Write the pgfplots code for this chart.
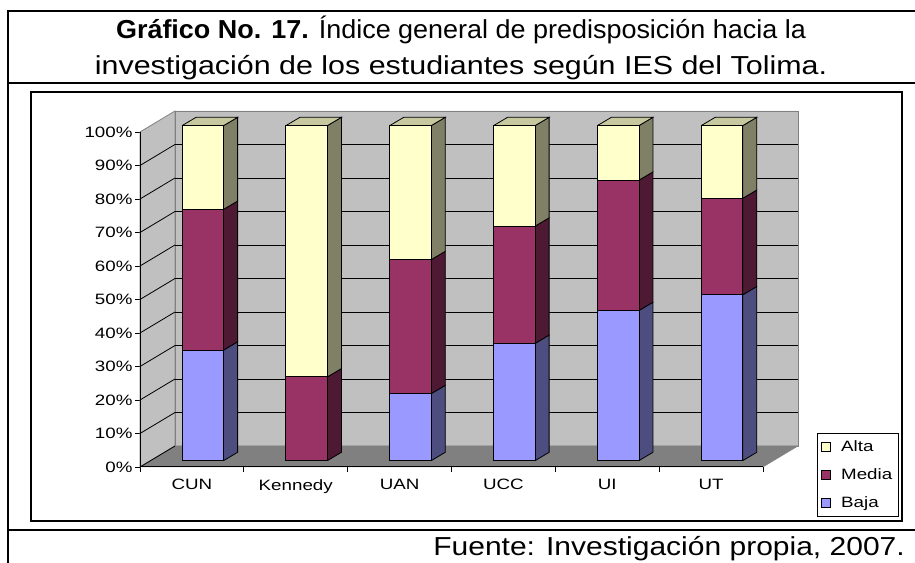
\documentclass[border=0pt]{standalone}
\usepackage{fontspec}
\setmainfont{Liberation Sans}
\newfontfamily\chartfont[FakeStretch=1.25]{Liberation Sans}
\usepackage{graphicx}
\usepackage{pgfplots}
\pgfplotsset{compat=1.18}
\usepackage{pgfplotstable}

\definecolor{bajaF}{HTML}{9999FF}
\definecolor{bajaS}{HTML}{4D4D80}
\definecolor{mediaF}{HTML}{993366}
\definecolor{mediaS}{HTML}{4D1933}
\definecolor{altaF}{HTML}{FFFFCC}
\definecolor{altaS}{HTML}{808066}
\definecolor{topC}{HTML}{C8C8A0}
\definecolor{wallC}{HTML}{C0C0C0}
\definecolor{floorC}{HTML}{808080}
\definecolor{edgeC}{HTML}{808080}

\pgfplotstableread{
cat base Baja Media Alta
0 1.9 33 42 25
1 1.9 0 25 75
2 1.9 20 40 40
3 1.9 35 35 30
4 1.9 44.8 38.9 16.3
5 1.9 49.5 28.8 21.7
}\datatable

\newcommand{\sidef}[4]{%
 \pgfmathsetmacro\xa{#1}\pgfmathsetmacro\xb{#1+0.135}%
 \pgfmathsetmacro\ya{#2+1.9}\pgfmathsetmacro\yb{#2+4.38}%
 \pgfmathsetmacro\yc{#3+4.38}\pgfmathsetmacro\yd{#3+1.9}%
 \edef\tmp{\noexpand\addplot[fill=#4,draw=black,line width=0.8bp] coordinates {(\xa,\ya) (\xb,\yb) (\xb,\yc) (\xa,\yd) (\xa,\ya)};}\tmp}
\newcommand{\topf}[1]{%
 \pgfmathsetmacro\xa{#1}\pgfmathsetmacro\xb{#1+0.4}\pgfmathsetmacro\xc{#1+0.535}\pgfmathsetmacro\xd{#1+0.135}%
 \edef\tmp{\noexpand\addplot[fill=topC,draw=black,line width=0.8bp] coordinates {(\xa,101.9) (\xb,101.9) (\xc,104.38) (\xd,104.38) (\xa,101.9)};}\tmp}

\pgfplotsset{base3d/.style={x=103.83bp, y=3.35bp, xmin=-0.5, xmax=5.837, ymin=0, ymax=106.27,
  anchor=south west, at={(140bp,96bp)}, enlargelimits=false, clip=false}}

\begin{document}
\begin{tikzpicture}[x=1bp,y=1bp]
\useasboundingbox (0,0) rectangle (915,563);
% table frame
\draw[line width=2bp] (8,552) -- (916,552);
\draw[line width=2bp] (8,480) -- (916,480);
\draw[line width=2bp] (8,33) -- (916,33);
\draw[line width=2bp] (8,-1) -- (8,553);
\draw[line width=2bp] (31,42) rectangle (902,471);
% title and source
\node[anchor=base, inner sep=0] at (461,524) {\scalebox{1.037}[1]{\fontsize{26bp}{31bp}\selectfont\textbf{Gráfico No. 17.} Índice general de predisposición hacia la}};
\node[anchor=base, inner sep=0] at (461,488) {\scalebox{1.17}[1]{\fontsize{26bp}{31bp}\selectfont investigación de los estudiantes según IES del Tolima.}};
\node[anchor=base east, inner sep=0] at (905,7) {\scalebox{1.154}[1]{\fontsize{26bp}{31bp}\selectfont Fuente: Investigación propia, 2007.}};

\begin{axis}[base3d,
  axis line style={draw=none},
  no markers,
  tick pos=left, tick align=outside,
  major tick length=5bp,
  ytick={0,10,...,100},
  yticklabels={0\%,10\%,20\%,30\%,40\%,50\%,60\%,70\%,80\%,90\%,100\%},
  xtick={-0.5,0.5,...,5.5},
  xticklabels={},
  extra x ticks={0,1,2,3,4,5},
  extra x tick labels={CUN,Kennedy,UAN,UCC,UI,UT},
  extra x tick style={tick style={draw=none}, xticklabel style={yshift=-4bp}},
  tick style={black, line width=0.8bp},
  ticklabel style={font=\chartfont\fontsize{15bp}{17bp}\selectfont},
  yticklabel style={xshift=1bp},
  unbounded coords=jump,
]
% walls and floor
\addplot[fill=wallC, draw=edgeC, line width=0.8bp] coordinates {(-0.5,0) (-0.163,6.27) (-0.163,106.27) (-0.5,100) (-0.5,0)};
\addplot[fill=wallC, draw=edgeC, line width=0.8bp] coordinates {(-0.163,6.27) (5.837,6.27) (5.837,106.27) (-0.163,106.27) (-0.163,6.27)};
\addplot[fill=floorC, draw=floorC, line width=0.5bp] coordinates {(-0.5,0) (5.5,0) (5.837,6.27) (-0.163,6.27) (-0.5,0)};
% gridlines
\addplot[black, line width=0.8bp] coordinates {
(-0.163,16.27) (5.837,16.27) (nan,nan)
(-0.163,26.27) (5.837,26.27) (nan,nan)
(-0.163,36.27) (5.837,36.27) (nan,nan)
(-0.163,46.27) (5.837,46.27) (nan,nan)
(-0.163,56.27) (5.837,56.27) (nan,nan)
(-0.163,66.27) (5.837,66.27) (nan,nan)
(-0.163,76.27) (5.837,76.27) (nan,nan)
(-0.163,86.27) (5.837,86.27) (nan,nan)
(-0.163,96.27) (5.837,96.27)};
\addplot[black, line width=0.8bp] coordinates {
(-0.5,0) (-0.163,6.27) (nan,nan)
(-0.5,10) (-0.163,16.27) (nan,nan)
(-0.5,20) (-0.163,26.27) (nan,nan)
(-0.5,30) (-0.163,36.27) (nan,nan)
(-0.5,40) (-0.163,46.27) (nan,nan)
(-0.5,50) (-0.163,56.27) (nan,nan)
(-0.5,60) (-0.163,66.27) (nan,nan)
(-0.5,70) (-0.163,76.27) (nan,nan)
(-0.5,80) (-0.163,86.27) (nan,nan)
(-0.5,90) (-0.163,96.27)};
% front axis lines
\addplot[black, line width=1bp] coordinates {(-0.5,100) (-0.5,0) (5.5,0)};
% side and top faces of the bars
\sidef{0.305}{0}{33}{bajaS}
\sidef{0.305}{33}{75}{mediaS}
\sidef{0.305}{75}{100}{altaS}
\topf{-0.095}
\sidef{1.305}{0}{25}{mediaS}
\sidef{1.305}{25}{100}{altaS}
\topf{0.905}
\sidef{2.305}{0}{20}{bajaS}
\sidef{2.305}{20}{60}{mediaS}
\sidef{2.305}{60}{100}{altaS}
\topf{1.905}
\sidef{3.305}{0}{35}{bajaS}
\sidef{3.305}{35}{70}{mediaS}
\sidef{3.305}{70}{100}{altaS}
\topf{2.905}
\sidef{4.305}{0}{44.8}{bajaS}
\sidef{4.305}{44.8}{83.7}{mediaS}
\sidef{4.305}{83.7}{100}{altaS}
\topf{3.905}
\sidef{5.305}{0}{49.5}{bajaS}
\sidef{5.305}{49.5}{78.3}{mediaS}
\sidef{5.305}{78.3}{100}{altaS}
\topf{4.905}
\end{axis}

\begin{axis}[base3d, hide axis, ybar stacked, bar width=0.4, bar shift=0.105,
  legend style={at={(1.029,0.0955)}, anchor=north west, draw=black, line width=0.8bp,
    font=\chartfont\fontsize{15bp}{17bp}\selectfont, row sep=12bp,
    inner xsep=4bp, inner ysep=5bp, cells={anchor=west}},
  reverse legend,
  legend image code/.code={\draw[#1, line width=0.6bp] (0bp,-4.5bp) rectangle (9bp,4.5bp);\path (17bp,0bp);},
]
\addplot[draw=none, fill=none, forget plot] table[x=cat, y=base]{\datatable};
\addplot[fill=bajaF, draw=black, line width=0.8bp] table[x=cat, y=Baja]{\datatable};
\addplot[fill=mediaF, draw=black, line width=0.8bp] table[x=cat, y=Media]{\datatable};
\addplot[fill=altaF, draw=black, line width=0.8bp] table[x=cat, y=Alta]{\datatable};
\legend{Baja,Media,Alta}
\end{axis}
\end{tikzpicture}
\end{document}
